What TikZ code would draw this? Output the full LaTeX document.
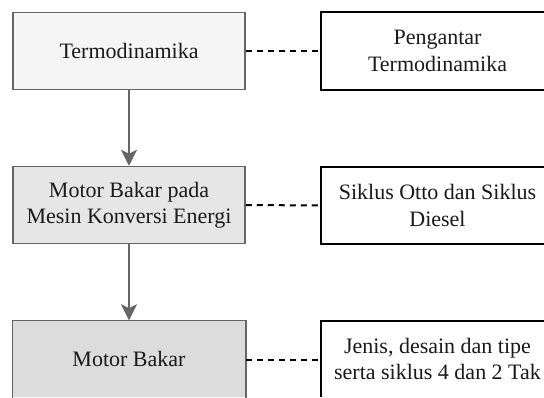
\documentclass[tikz,border=0pt]{standalone}
\usepackage{fontspec}
\setmainfont{Liberation Serif}
\newfontfamily\diagfont{Liberation Serif}
\usetikzlibrary{arrows.meta}
\definecolor{boxline}{HTML}{666666}
\definecolor{fillA}{HTML}{F5F5F5}
\definecolor{fillB}{HTML}{E6E6E6}
\definecolor{fillC}{HTML}{DCDCDC}
\definecolor{txt}{HTML}{1A1A1A}
\begin{document}
\begin{tikzpicture}[x=1pt,y=-1pt,
  mainbox/.style={draw=boxline, line width=1.5pt, rectangle, minimum width=232pt, minimum height=77pt, inner sep=0pt, align=center, text=txt, font=\diagfont\fontsize{22}{26.5}\selectfont},
  sidebox/.style={draw=none, rectangle, minimum width=232pt, minimum height=77pt, inner sep=0pt, align=center, text=txt, font=\diagfont\fontsize{22}{26.5}\selectfont},
  mainline/.style={draw=boxline, line width=1.5pt},
  sideline/.style={draw=black, line width=1.7pt},
  flowarrow/.style={draw=boxline, line width=1.5pt, -{Stealth[length=16pt, width=16pt, inset=4pt]}},
  dashlink/.style={draw=black, line width=2pt, dash pattern=on 6pt off 5pt}]
\useasboundingbox (0,0) rectangle (544,397);
\fill[white] (0,0) rectangle (544,397);
\coordinate (edgeR) at (544,0);
% main column
\node[mainbox, fill=fillA] (m1) at (129,51) {Termodinamika};
\node[mainbox, fill=fillB] (m2) at (129,205) {Motor Bakar pada\\Mesin Konversi Energi};
\node[mainbox, draw=none, fill=fillC, minimum height=76pt] (m3) at (129,359) {Motor Bakar};
\draw[mainline] (m3.south west) -- (m3.north west) -- (m3.north east) -- (m3.south east);
% side column (cut by the right edge)
\node[sidebox] (s1) at (437.5,51) {Pengantar\\Termodinamika};
\node[sidebox] (s2) at (437.5,205.5) {Siklus Otto dan Siklus\\Diesel};
\node[sidebox, minimum height=76pt] (s3) at (437.5,359) {Jenis, desain dan tipe\\serta siklus 4 dan 2 Tak};
\draw[sideline] (s1.north west -| edgeR) -- (s1.north west) -- (s1.south west) -- (s1.south west -| edgeR);
\draw[sideline] (s2.north west -| edgeR) -- (s2.north west) -- (s2.south west) -- (s2.south west -| edgeR);
\draw[sideline] (s3.north west -| edgeR) -- (s3.north west) -- (s3.south west);
% connectors
\draw[flowarrow] (m1.south) -- (m2.north);
\draw[flowarrow] (m2.south) -- (m3.north);
\draw[dashlink] (m1.east) -- (s1.west);
\draw[dashlink] (m2.east) -- (s2.west);
\draw[dashlink] ([yshift=-1pt]m3.east) -- ([yshift=-1pt]s3.west);
\end{tikzpicture}
\end{document}
